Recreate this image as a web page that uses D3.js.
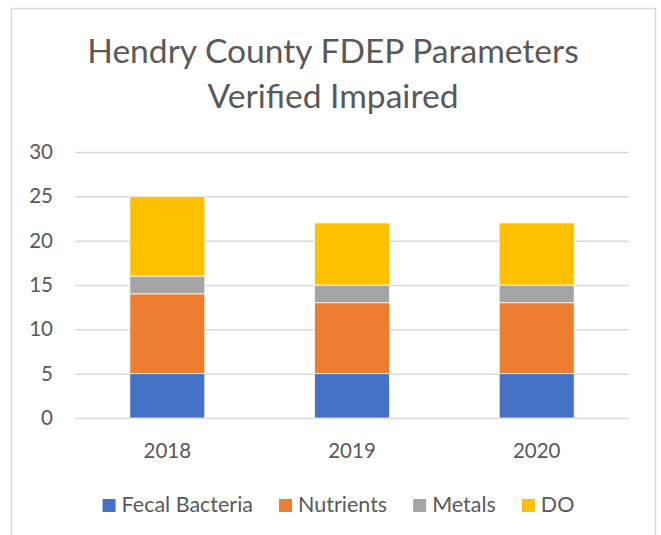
<!DOCTYPE html>
<html>
<head>
<meta charset="utf-8">
<script src="https://cdn.jsdelivr.net/npm/d3@7"></script>
<style>
  html, body { margin: 0; padding: 0; background: #fff; }
  svg { display: block; }
  text { font-family: Lato, "Open Sans", sans-serif; fill: #595959; }
</style>
</head>
<body>
<svg id="chart" width="661" height="535"></svg>
<script>
const titleLines = ["Hendry County FDEP Parameters", "Verified Impaired"];
const years = ["2018", "2019", "2020"];
const seriesNames = ["Fecal Bacteria", "Nutrients", "Metals", "DO"];
const fecalBacteria = [5, 5, 5];
const nutrients = [9, 8, 8];
const metals = [2, 2, 2];
const dissolvedOxygen = [9, 7, 7];
const yTicks = [0, 5, 10, 15, 20, 25, 30];
const colors = ["#4472C4", "#ED7D31", "#A5A5A5", "#FFC000"];

const seriesValues = [fecalBacteria, nutrients, metals, dissolvedOxygen];
const rows = years.map((y, i) => {
  const r = { year: y };
  seriesNames.forEach((s, k) => r[s] = seriesValues[k][i]);
  return r;
});

const svg = d3.select("#chart");

// chart border
svg.append("rect")
  .attr("x", 11.5).attr("y", 8.5)
  .attr("width", 644).attr("height", 560)
  .attr("fill", "#fff").attr("stroke", "#d9d9d9").attr("stroke-width", 1.5);

// title
const titleG = svg.append("g");
titleLines.forEach((t, i) => {
  titleG.append("text")
    .attr("x", 333).attr("y", 63 + i * 44.5)
    .attr("text-anchor", "middle")
    .style("font-size", "33.6px")
    .text(t);
});

const plot = { left: 75, right: 629, top: 152, bottom: 418 };

const x = d3.scaleBand()
  .domain(years)
  .range([plot.left, plot.right])
  .paddingInner(0.594)
  .paddingOuter(0.297);

const y = d3.scaleLinear()
  .domain([0, 30])
  .range([plot.bottom, plot.top]);

// gridlines + y labels
const yAxis = d3.axisLeft(y)
  .tickValues(yTicks)
  .tickSize(-(plot.right - plot.left))
  .tickPadding(22);

const yg = svg.append("g")
  .attr("transform", `translate(${plot.left},0)`)
  .call(yAxis);
yg.select(".domain").remove();
yg.selectAll(".tick line").attr("stroke", "#d9d9d9").attr("stroke-width", 1.5);
yg.selectAll(".tick text")
  .style("font-size", "20.5px")
  .style("font-family", "Lato, 'Open Sans', sans-serif")
  .attr("fill", "#595959");

// stacked bars
const stack = d3.stack().keys(seriesNames);
const stacked = stack(rows);

svg.append("g").selectAll("g")
  .data(stacked)
  .join("g")
  .attr("fill", (d, i) => colors[i])
  .selectAll("rect")
  .data(d => d)
  .join("rect")
  .attr("x", d => x(d.data.year))
  .attr("width", x.bandwidth())
  .attr("y", d => y(d[1]))
  .attr("height", d => y(d[0]) - y(d[1]))
  .attr("stroke", "#ffffff")
  .attr("stroke-width", 0.75);

// x labels
const xAxis = d3.axisBottom(x).tickSize(0).tickPadding(0);
const xg = svg.append("g")
  .attr("transform", `translate(0,${plot.bottom})`)
  .call(xAxis);
xg.select(".domain").remove();
xg.selectAll(".tick text")
  .attr("dy", null)
  .attr("y", 40)
  .style("font-size", "20.5px")
  .style("font-family", "Lato, 'Open Sans', sans-serif")
  .attr("fill", "#595959");

// legend
const legendG = svg.append("g");
const sq = 13, gapSqText = 6, gapItems = 26, legendBaseline = 512, legendCenter = 338.5;
const items = seriesNames.map((name, i) => {
  const g = legendG.append("g");
  g.append("rect").attr("width", sq).attr("height", sq)
    .attr("y", legendBaseline - 13).attr("fill", colors[i]);
  const t = g.append("text")
    .attr("x", sq + gapSqText).attr("y", legendBaseline)
    .style("font-size", "21.5px")
    .text(name);
  return { g, w: sq + gapSqText + t.node().getComputedTextLength() };
});
const total = d3.sum(items, d => d.w) + gapItems * (items.length - 1);
let cx = legendCenter - total / 2;
items.forEach(it => {
  it.g.attr("transform", `translate(${cx},0)`);
  cx += it.w + gapItems;
});
</script>
</body>
</html>
